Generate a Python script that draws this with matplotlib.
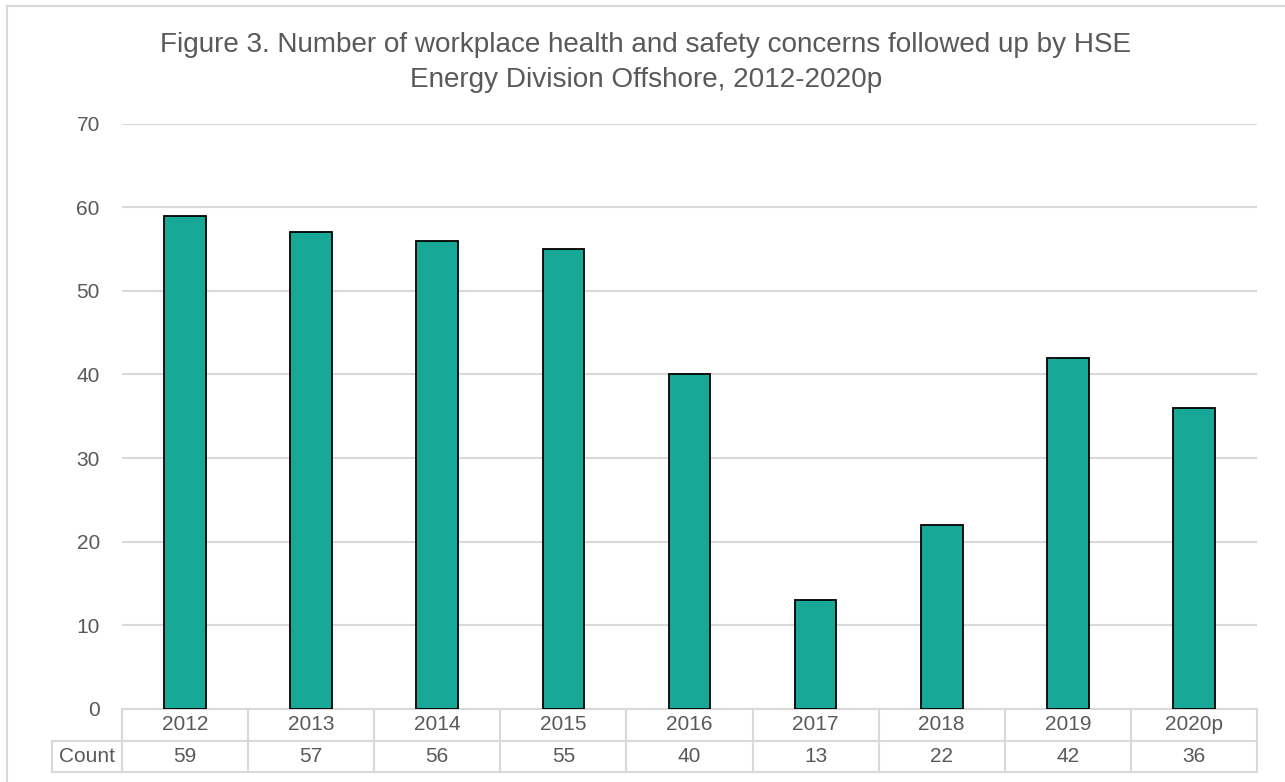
import matplotlib.pyplot as plt
from matplotlib.lines import Line2D
import matplotlib.transforms as mtransforms

# HSE Energy Division Offshore concerns by year
years = ["2012", "2013", "2014", "2015", "2016", "2017", "2018", "2019", "2020p"]
counts = [59, 57, 56, 55, 40, 13, 22, 42, 36]
row_label = "Count"
title_lines = ["Figure 3. Number of workplace health and safety concerns followed up by HSE",
               "Energy Division Offshore, 2012-2020p"]

plt.rcParams['font.family'] = ['Liberation Sans', 'DejaVu Sans']
text_col = "#595959"
grid_col = "#D9D9D9"
bar_col = "#17A898"
fs = 15

W, H = 1285, 782
fig = plt.figure(figsize=(W / 100, H / 100), dpi=100)

# plot area in pixel terms
left, right, top, bottom = 122, 1257, 123.5, 709
ax = fig.add_axes([left / W, (H - bottom) / H, (right - left) / W, (bottom - top) / H])

x = list(range(len(years)))
ax.bar(x, counts, width=0.33, color=bar_col, edgecolor="black", linewidth=1.3, zorder=3)

ax.set_xlim(-0.5, len(years) - 0.5)
ax.set_ylim(0, 70)
ax.set_yticks(range(0, 71, 10))
ax.tick_params(axis="y", length=0, pad=16, labelsize=fs, labelcolor=text_col)
ax.set_xticks([])
ax.grid(axis="y", color=grid_col, linewidth=1.5, zorder=0)
for s in ax.spines.values():
    s.set_visible(False)

# two-line title, centred on the figure
for k, line in enumerate(title_lines):
    fig.text(0.5025, 1 - (52.3 + 35 * k) / H, line, ha="center", va="baseline",
             fontsize=20.1, color=text_col)

# data table under the bars
trans = mtransforms.blended_transform_factory(ax.transData, ax.transAxes)
row_h = 31.5 / (bottom - top)
y0, y1, y2 = 0, -row_h, -2 * row_h
label_left = -0.5 - 70 / 126
n = len(years)
line_kw = dict(color=grid_col, linewidth=1.5, transform=trans, clip_on=False)

ax.add_line(Line2D([-0.5, n - 0.5], [y0, y0], **line_kw))
ax.add_line(Line2D([label_left, n - 0.5], [y1, y1], **line_kw))
ax.add_line(Line2D([label_left, n - 0.5], [y2, y2], **line_kw))
ax.add_line(Line2D([label_left, label_left], [y1, y2], **line_kw))
for i in range(n + 1):
    ax.add_line(Line2D([i - 0.5, i - 0.5], [y0, y2], **line_kw))

for i, (yr, c) in enumerate(zip(years, counts)):
    ax.text(i, (y0 + y1) / 2, yr, transform=trans, ha="center", va="center",
            fontsize=fs, color=text_col, clip_on=False)
    ax.text(i, (y1 + y2) / 2, str(c), transform=trans, ha="center", va="center",
            fontsize=fs, color=text_col, clip_on=False)
ax.text((label_left - 0.5) / 2, (y1 + y2) / 2, row_label, transform=trans,
        ha="center", va="center", fontsize=fs, color=text_col, clip_on=False)

# chart frame (top and left edges)
fig.add_artist(Line2D([7 / W, 1.0], [1 - 6 / H, 1 - 6 / H], color=grid_col, linewidth=1.5))
fig.add_artist(Line2D([7 / W, 7 / W], [0.0, 1 - 6 / H], color=grid_col, linewidth=1.5))

fig.savefig("out.png", dpi=100)
